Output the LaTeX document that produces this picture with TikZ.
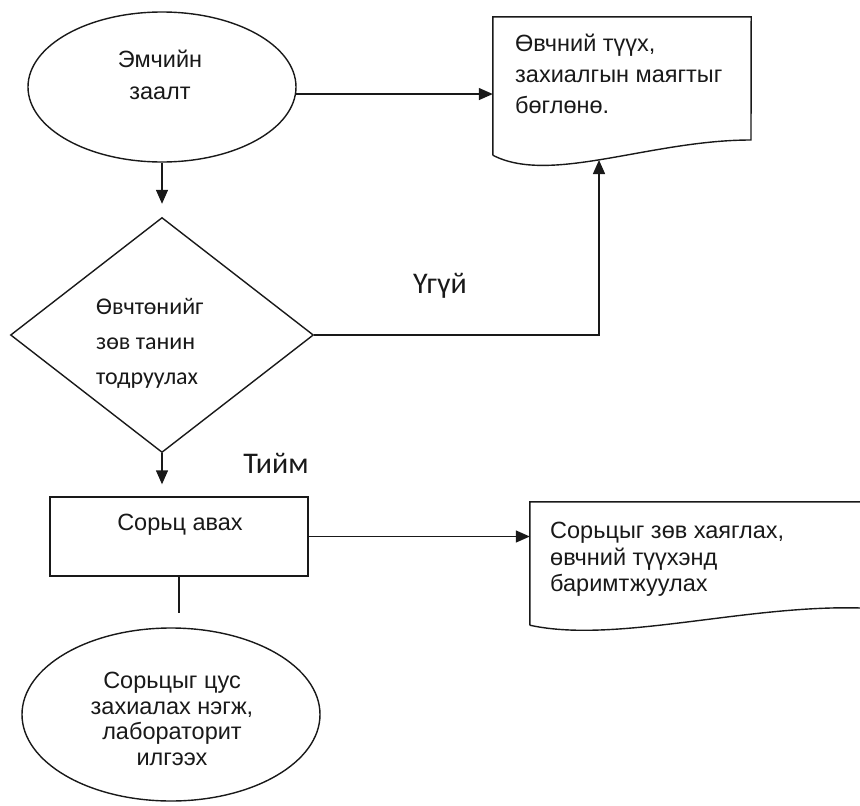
\documentclass[tikz,border=0pt]{standalone}
\usepackage{fontspec}
\setmainfont{Liberation Sans}
\newfontfamily\calfont{Carlito}
\usetikzlibrary{shapes.geometric,arrows.meta}

\begin{document}
\begin{tikzpicture}[x=1pt,y=-1pt,
  line/.style={line width=1.4pt, draw=black!90},
  arr/.style={line, -{Triangle[width=12pt,length=14pt]}},
  shapebox/.style={line, inner sep=0pt},
  txt/.style={inner sep=0pt, text=black!90, font=\fontsize{23.5}{30}\selectfont},
  caltxt/.style={inner sep=0pt, text=black!90, font=\calfont\fontsize{24}{35}\selectfont},
  answer/.style={inner sep=0pt, text=black!90, font=\calfont\fontsize{30}{32}\selectfont},
]
\useasboundingbox (0,0) rectangle (860,806);
\clip (0,0) rectangle (860,806);

% start: doctor's order
\node[shapebox, ellipse, minimum width=268pt, minimum height=150pt] (e1) at (162,87) {};
\node[txt, align=center, anchor=north, font=\fontsize{23.5}{32}\selectfont] (e1t) at (160,50) {Эмчийн\\заалт};

% document: fill in the patient history
\node[inner sep=0pt, minimum width=258pt, minimum height=138pt] (d1) at (622,86) {};
\draw[line] (d1.south west) -- (d1.north west) -- (d1.north east) -- (751,140)
  .. controls (650,140) and (550,185) .. (d1.south west);
\node[txt, align=left, anchor=north west, font=\fontsize{23.5}{31}\selectfont] (d1t) at (515,34) {Өвчний түүх,\\захиалгын маягтыг\\бөглөнө.};
\coordinate (d1in) at (599,160);

% decision
\node[shapebox, diamond, minimum width=303pt, minimum height=235pt] (dia) at (162,335) {};
\node[caltxt, align=left, anchor=north west] (diat) at (96,298) {Өвчтөнийг\\зөв танин\\тодруулах};

% take the sample
\node[shapebox, rectangle, minimum width=258pt, minimum height=79pt] (box) at (179,536.5) {};
\node[txt, anchor=north] (boxt) at (180,514) {Сорьц авах};

% document: label the sample
\node[inner sep=0pt, minimum width=350pt, minimum height=123pt] (d2) at (705,563.5) {};
\draw[line] (d2.south west) -- (d2.north west) -- (d2.north east) -- (880,609)
  .. controls (760,600) and (620,645) .. (d2.south west);
\node[txt, align=left, anchor=north west, font=\fontsize{23.5}{26.5}\selectfont] (d2t) at (550,522) {Сорьцыг зөв хаяглах,\\өвчний түүхэнд\\баримтжуулах};

% end: send to the lab
\node[shapebox, ellipse, minimum width=298pt, minimum height=173pt] (e2) at (171,714.5) {};
\node[txt, align=center, anchor=north, font=\fontsize{23.5}{25.5}\selectfont] (e2t) at (172,672) {Сорьцыг цус\\захиалах нэгж,\\лабораторит\\илгээх};

% answers
\node[answer, anchor=base] (no) at (440,293) {Үгүй};
\node[answer, anchor=base] (yes) at (276,473) {Тийм};

% connectors
\draw[arr] (e1.-3) -- (d1.west |- e1.-3);
\draw[arr, shorten >=13pt] (e1.south) -- (dia.north);
\draw[arr] (dia.east) -| (d1in);
\draw[arr, shorten >=12pt] (dia.south) -- (dia.south |- box.north);
\draw[arr] (box.east) -- (box.east -| d2.west);
\draw[line, shorten >=14pt] (box.south) -- (box.south |- e2.north);
\end{tikzpicture}
\end{document}
